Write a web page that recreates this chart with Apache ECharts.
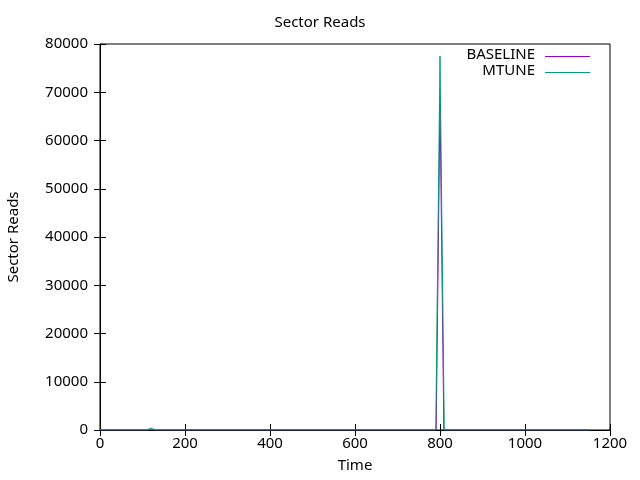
<!DOCTYPE html>
<html>
<head>
<meta charset="utf-8">
<script src="https://cdn.jsdelivr.net/npm/echarts@6/dist/echarts.min.js"></script>
<style>html,body{margin:0;padding:0;background:#fff}#c{width:640px;height:480px}</style>
</head>
<body>
<div id="c"></div>
<script>
// Data
const baselineTime = [0, 791, 800, 809, 1150];
const baselineReads = [0, 0, 68000, 0, 0];
const mtuneTime = [0, 110, 120, 130, 790, 800, 810, 1150];
const mtuneReads = [0, 0, 400, 0, 0, 77500, 0, 0];
const xTicks = [0, 200, 400, 600, 800, 1000, 1200];
const yTicks = [0, 10000, 20000, 30000, 40000, 50000, 60000, 70000, 80000];
const seriesNames = ['BASELINE', 'MTUNE'];
const seriesColors = ['#9400D3', '#009E73'];

const FONT = 'Noto Sans';
const pair = (t, v) => t.map((x, i) => [x, v[i]]);

const chart = echarts.init(document.getElementById('c'), null, {renderer: 'canvas'});
const axisCommon = {
  axisLine: {show: true, lineStyle: {color: '#000', width: 1}},
  axisTick: {show: true, inside: true, length: 6, lineStyle: {color: '#000'}},
  splitLine: {show: false}
};
const legendGraphics = [];
seriesNames.forEach((n, i) => {
  const y = 56 + i * 16;
  legendGraphics.push({
    type: 'text', right: 105, top: y - 9,
    style: {text: n, fill: '#000', font: '15px "' + FONT + '"', textAlign: 'right'}
  });
  legendGraphics.push({
    type: 'line', shape: {x1: 545, y1: y + 0.5, x2: 590, y2: y + 0.5},
    style: {stroke: seriesColors[i], lineWidth: 1}
  });
});
chart.setOption({
  animation: false,
  backgroundColor: '#fff',
  title: {
    text: 'Sector Reads', left: 'center', top: 10,
    textStyle: {fontFamily: FONT, fontSize: 15, fontWeight: 'normal', color: '#000'}
  },
  graphic: legendGraphics,
  grid: {left: 100, right: 30, top: 44, bottom: 50, show: true, borderColor: '#000', borderWidth: 1,
         containLabel: false, outerBoundsMode: 'none'},
  xAxis: [
    Object.assign({
      type: 'value', min: xTicks[0], max: xTicks[xTicks.length - 1], interval: 200,
      name: 'Time', nameLocation: 'middle', nameGap: 28,
      nameTextStyle: {fontFamily: FONT, fontSize: 15, color: '#000'},
      axisLabel: {fontFamily: FONT, fontSize: 15, color: '#000', margin: 6, formatter: v => String(v)}
    }, axisCommon),
    Object.assign({
      type: 'value', position: 'top', min: xTicks[0], max: xTicks[xTicks.length - 1], interval: 200,
      axisLabel: {show: false}
    }, axisCommon)
  ],
  yAxis: [
    Object.assign({
      type: 'value', min: yTicks[0], max: yTicks[yTicks.length - 1], interval: 10000,
      name: 'Sector Reads', nameLocation: 'middle', nameGap: 79, nameRotate: 90,
      nameTextStyle: {fontFamily: FONT, fontSize: 15, color: '#000'},
      axisLabel: {fontFamily: FONT, fontSize: 15, color: '#000', margin: 12, formatter: v => String(v)}
    }, axisCommon),
    Object.assign({
      type: 'value', position: 'right', min: yTicks[0], max: yTicks[yTicks.length - 1], interval: 10000,
      axisLabel: {show: false}
    }, axisCommon)
  ],
  series: [
    {
      name: seriesNames[0], type: 'line', xAxisIndex: 0, yAxisIndex: 0,
      data: pair(baselineTime, baselineReads), showSymbol: false, symbol: 'none',
      lineStyle: {color: seriesColors[0], width: 1}, itemStyle: {color: seriesColors[0]}
    },
    {
      name: seriesNames[1], type: 'line', xAxisIndex: 0, yAxisIndex: 0,
      data: pair(mtuneTime, mtuneReads), showSymbol: false, symbol: 'none',
      lineStyle: {color: seriesColors[1], width: 1}, itemStyle: {color: seriesColors[1]}
    }
  ]
});
</script>
</body>
</html>
